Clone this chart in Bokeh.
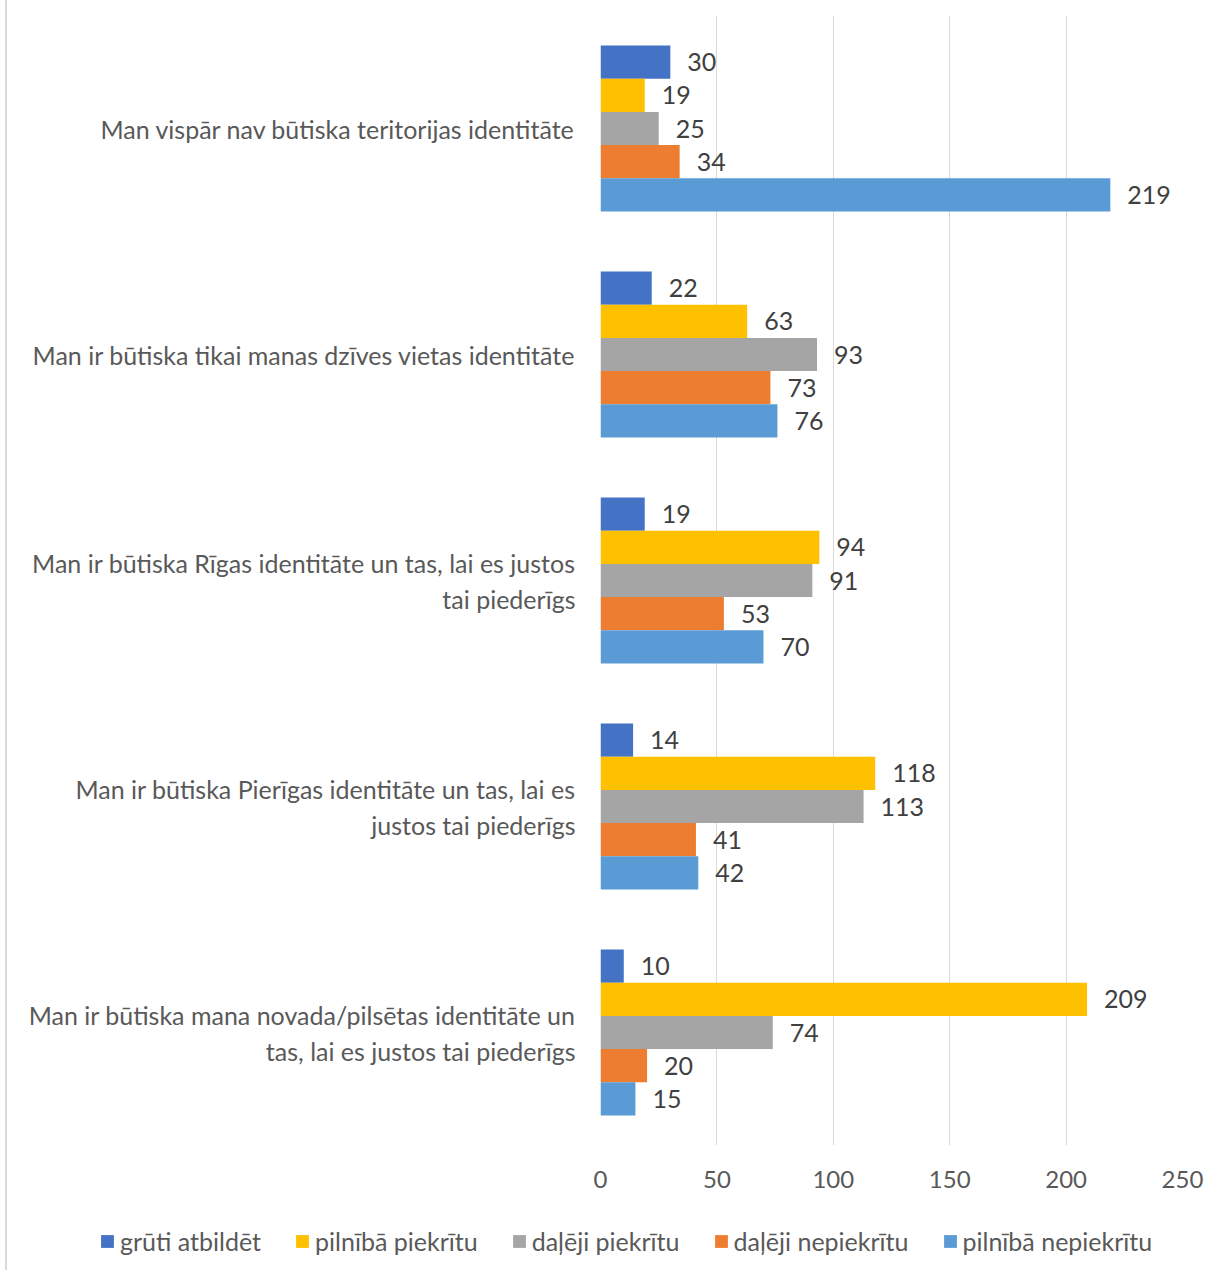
from bokeh.plotting import figure
from bokeh.layouts import column
from bokeh.models import FactorRange, Legend, LegendItem, ColumnDataSource
from bokeh.transform import dodge
from bokeh.core.properties import value
from bokeh.embed import file_html
from bokeh.resources import INLINE

categories = [
    "Man vispār nav būtiska teritorijas identitāte",
    "Man ir būtiska tikai manas dzīves vietas identitāte",
    "Man ir būtiska Rīgas identitāte un tas, lai es justos\ntai piederīgs",
    "Man ir būtiska Pierīgas identitāte un tas, lai es\njustos tai piederīgs",
    "Man ir būtiska mana novada/pilsētas identitāte un\ntas, lai es justos tai piederīgs",
]
series_names = ["grūti atbildēt", "pilnībā piekrītu", "daļēji piekrītu",
                "daļēji nepiekrītu", "pilnībā nepiekrītu"]
gruti_atbildet = [30, 22, 19, 14, 10]
pilniba_piekritu = [19, 63, 94, 118, 209]
daleji_piekritu = [25, 93, 91, 113, 74]
daleji_nepiekritu = [34, 73, 53, 41, 20]
pilniba_nepiekritu = [219, 76, 70, 42, 15]
x_ticks = [0, 50, 100, 150, 200, 250]

colors = ["#4472C4", "#FFC000", "#A5A5A5", "#ED7D31", "#5B9BD5"]
series_values = [gruti_atbildet, pilniba_piekritu, daleji_piekritu,
                 daleji_nepiekritu, pilniba_nepiekritu]

FONT = "Lato"
TXT = "#595959"

p = figure(
    width=1200, height=1210,
    y_range=FactorRange(factors=list(reversed(categories))),
    x_range=(0, 250),
    output_backend="svg", toolbar_location=None,
    min_border_left=593, min_border_right=25,
    min_border_top=15, min_border_bottom=65,
)
p.frame_align = False
p.outline_line_color = None
p.background_fill_color = "white"
p.border_fill_color = "white"

bar_h = 0.147
offsets = [2 * bar_h, bar_h, 0.0, -bar_h, -2 * bar_h]

for name, vals, col, off in zip(series_names, series_values, colors, offsets):
    src = ColumnDataSource(dict(cat=categories, val=vals, lbl=[str(v) for v in vals]))
    p.hbar(y=dodge("cat", off, range=p.y_range), right="val", left=0,
           height=bar_h, source=src, fill_color=col, line_color=None)
    p.text(x="val", y=dodge("cat", off, range=p.y_range), text="lbl", source=src,
           x_offset=17, text_baseline="middle", text_align="left",
           text_font=value(FONT), text_font_size="25px", text_color="#404040")

# axes
p.xaxis.ticker = x_ticks
p.xaxis.axis_line_color = None
p.xaxis.major_tick_line_color = None
p.xaxis.minor_tick_line_color = None
p.xaxis.major_tick_out = 0
p.xaxis.major_tick_in = 0
p.xaxis.major_label_standoff = 25
p.xaxis.major_label_text_font = FONT
p.xaxis.major_label_text_font_size = "24px"
p.xaxis.major_label_text_color = TXT

p.yaxis.axis_line_color = None
p.yaxis.major_tick_line_color = None
p.yaxis.minor_tick_line_color = None
p.yaxis.major_tick_out = 0
p.yaxis.major_tick_in = 0
p.yaxis.major_label_standoff = 25
p.yaxis.major_label_text_font = FONT
p.yaxis.major_label_text_font_size = "25px"
p.yaxis.major_label_text_color = TXT

p.ygrid.grid_line_color = None
p.xgrid.grid_line_color = "#D9D9D9"
p.xgrid.grid_line_width = 1

# legend strip below the chart
leg = figure(width=1200, height=60, x_range=(0, 1), y_range=(0, 1),
             output_backend="svg", toolbar_location=None,
             min_border_left=0, min_border_right=0,
             min_border_top=0, min_border_bottom=0)
leg.frame_align = False
leg.axis.visible = False
leg.grid.visible = False
leg.outline_line_color = None
leg.background_fill_color = "white"

items = []
for name, col in zip(series_names, colors):
    # swatch renderer kept outside the visible range; only its legend swatch shows
    r = leg.hbar(y=[-5], right=[1], left=0, height=0.5, fill_color=col, line_color=None)
    items.append(LegendItem(label=name, renderers=[r]))

legend = Legend(items=items, orientation="horizontal", location=(92, 14),
                glyph_width=16, glyph_height=16, label_standoff=5, spacing=33,
                label_text_font=FONT, label_text_font_size="25px",
                label_text_color=TXT, border_line_color=None,
                background_fill_alpha=0, padding=0, margin=0)
leg.add_layout(legend, "center")

layout = column(p, leg, spacing=0,
                styles={"margin-left": "5px", "border-left": "2px solid #D9D9D9"})

open("out.html", "w").write(file_html(layout, INLINE))
